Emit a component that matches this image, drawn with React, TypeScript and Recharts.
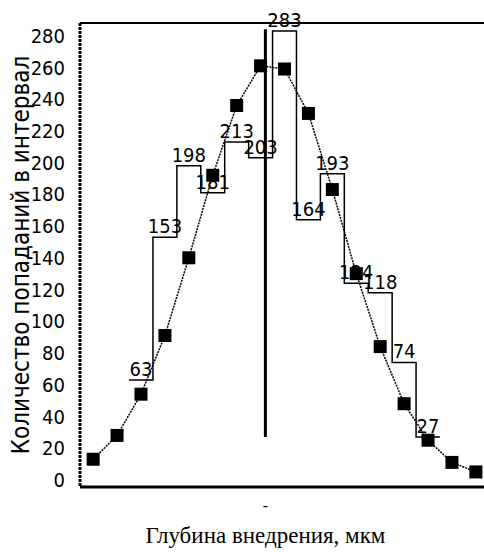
import { ComposedChart, Line, XAxis, YAxis, ReferenceLine, LabelList } from "recharts";

// interval index of every measured point (1..17)
const pointIndex = [1, 2, 3, 4, 5, 6, 7, 8, 9, 10, 11, 12, 13, 14, 15, 16, 17];
const pointCounts = [13, 28, 54, 91, 140, 192, 236, 261, 259, 231, 183, 130, 84, 48, 25, 11, 5];

// histogram bins (centre index + count)
const binCenters = [3, 4, 5, 6, 7, 8, 9, 10, 11, 12, 13, 14, 15];
const binCounts = [63, 153, 198, 181, 213, 203, 283, 164, 193, 124, 118, 74, 27];

const yTicks = [0, 20, 40, 60, 80, 100, 120, 140, 160, 180, 200, 220, 240, 260, 280];
const meanIndex = 8.2;
const meanLineFrom = 27;
const meanLineTo = 284;

const xTitle = "Глубина внедрения, мкм";
const yTitle = "Количество попаданий в интервал";

const pointData = pointIndex.map((x, i) => ({ x, n: pointCounts[i] }));
const binLabelData = binCenters.map((x, i) => ({ x, n: binCounts[i] }));
const stepData = [
    ...binCenters.map((c, i) => ({ x: c - 0.5, n: binCounts[i] })),
    { x: binCenters[binCenters.length - 1] + 0.5, n: binCounts[binCounts.length - 1] },
];

const narrow = "'Liberation Sans Narrow', 'Arial Narrow', 'DejaVu Sans Condensed', sans-serif";

const Square = (props: any) => {
    const { cx, cy } = props;
    if (cx == null || cy == null) return <g />;
    return <rect x={cx - 6.5} y={cy - 6.5} width={13} height={13} fill="#000" />;
};

const MeanTick = (props: any) => {
    const { x, y } = props;
    return (
        <g>
            <text x={x} y={y + 16} textAnchor="middle" fontFamily="'Liberation Serif', serif" fontSize={16} fill="#000">-</text>
            <text x={x} y={y + 48} textAnchor="middle" fontFamily="'Liberation Serif', 'Times New Roman', serif" fontSize={23} fill="#000">{xTitle}</text>
        </g>
    );
};

export default function App() {
    return (
        <div style={{ position: "absolute", left: 0, top: 0, background: "#fff" }}>
            <ComposedChart width={484} height={552} margin={{ top: 23, right: 0, left: 0, bottom: 0 }}>
                <XAxis
                    dataKey="x"
                    type="number"
                    domain={[0.45, 17.34]}
                    allowDataOverflow
                    ticks={[meanIndex]}
                    tick={<MeanTick />}
                    tickLine={false}
                    height={65}
                    axisLine={{ stroke: "#000", strokeWidth: 3 }}
                />
                <YAxis
                    type="number"
                    width={80}
                    domain={[-4.5, 288]}
                    allowDataOverflow
                    ticks={yTicks}
                    tickLine={false}
                    tickSize={6}
                    tickMargin={9}
                    axisLine={{ stroke: "#000", strokeWidth: 3, strokeDasharray: "3 1" }}
                    tick={{ fill: "#000", fontFamily: narrow, fontSize: 20 }}
                    label={{
                        value: yTitle,
                        angle: -90,
                        position: "insideLeft",
                        offset: 20,
                        style: { textAnchor: "middle", fill: "#000", fontFamily: narrow, fontSize: 24 },
                    }}
                />
                <ReferenceLine y={288} stroke="#000" strokeWidth={2} />
                <Line
                    data={stepData}
                    dataKey="n"
                    type="stepAfter"
                    stroke="#000"
                    strokeWidth={1.5}
                    dot={false}
                    isAnimationActive={false}
                />
                <Line
                    data={binLabelData}
                    dataKey="n"
                    stroke="none"
                    dot={false}
                    isAnimationActive={false}
                >
                    <LabelList dataKey="n" position="top" offset={4} fill="#000" fontFamily={narrow} fontSize={20} />
                </Line>
                <ReferenceLine
                    segment={[{ x: meanIndex, y: meanLineFrom }, { x: meanIndex, y: meanLineTo }]}
                    stroke="#000"
                    strokeWidth={3}
                />
                <Line
                    data={pointData}
                    dataKey="n"
                    type="linear"
                    stroke="#000"
                    strokeWidth={1.5}
                    strokeDasharray="2 1"
                    dot={<Square />}
                    isAnimationActive={false}
                />
            </ComposedChart>
        </div>
    );
}
